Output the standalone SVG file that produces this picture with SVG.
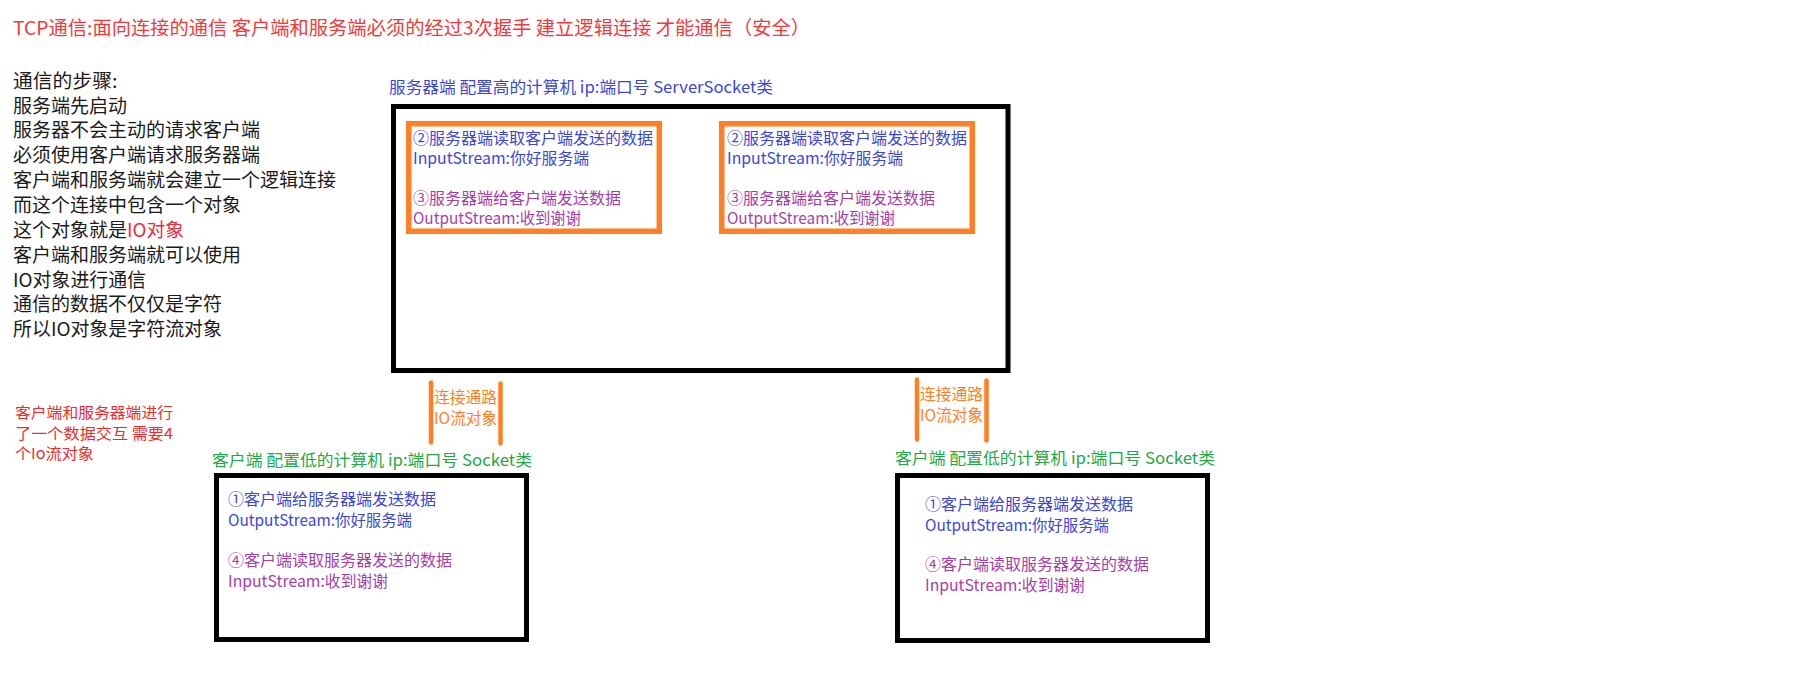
<svg xmlns="http://www.w3.org/2000/svg" width="1800" height="695" viewBox="0 0 1800 695">
<style>
text{font-family:"Noto Sans CJK SC","Noto Sans",sans-serif;white-space:pre}
.t19{font-size:19px;fill:#1a1a1a}
.t16{font-size:16px}
.t15{font-size:15px}
.blue{fill:#3b46d9}
.purple{fill:#a63ea8}
.green{fill:#1fa845}
.orange{fill:#ff7f27}
.red{fill:#ee2c2c}
.box{fill:none;stroke:#000;stroke-width:5}
.obox{fill:none;stroke:#ff7f27;stroke-width:5.5}
.bar{stroke:#ff7f27;stroke-width:4.5;stroke-linecap:round;fill:none}
</style>
<rect width="1800" height="695" fill="#fff"/>

<g id="title">
<text x="13" y="35" class="t19" textLength="797" lengthAdjust="spacingAndGlyphs" style="fill:#f03a3a">TCP通信:面向连接的通信 客户端和服务端必须的经过3次握手 建立逻辑连接 才能通信（安全）</text>
</g>

<g id="steps">
<text x="13" y="87.7" class="t19" textLength="104.5" lengthAdjust="spacingAndGlyphs">通信的步骤:</text>
<text x="13" y="112.5" class="t19" textLength="114" lengthAdjust="spacingAndGlyphs">服务端先启动</text>
<text x="13" y="137.4" class="t19" textLength="247" lengthAdjust="spacingAndGlyphs">服务器不会主动的请求客户端</text>
<text x="13" y="162.3" class="t19" textLength="247" lengthAdjust="spacingAndGlyphs">必须使用客户端请求服务器端</text>
<text x="13" y="187.1" class="t19" textLength="323" lengthAdjust="spacingAndGlyphs">客户端和服务端就会建立一个逻辑连接</text>
<text x="13" y="212" class="t19" textLength="228" lengthAdjust="spacingAndGlyphs">而这个连接中包含一个对象</text>
<text x="13" y="236.8" class="t19" textLength="114" lengthAdjust="spacingAndGlyphs">这个对象就是</text>
<text x="127" y="236.8" class="t19" textLength="57" lengthAdjust="spacingAndGlyphs" style="fill:#ee2c3c">IO对象</text>
<text x="13" y="261.7" class="t19" textLength="228" lengthAdjust="spacingAndGlyphs">客户端和服务端就可以使用</text>
<text x="13" y="286.6" class="t19" textLength="133" lengthAdjust="spacingAndGlyphs">IO对象进行通信</text>
<text x="13" y="311.4" class="t19" textLength="209" lengthAdjust="spacingAndGlyphs">通信的数据不仅仅是字符</text>
<text x="13" y="336.3" class="t19" textLength="209" lengthAdjust="spacingAndGlyphs">所以IO对象是字符流对象</text>
</g>

<g id="note">
<text x="15" y="418" class="t15 red" textLength="158" lengthAdjust="spacingAndGlyphs">客户端和服务器端进行</text>
<text x="15" y="438.5" class="t15 red" textLength="158" lengthAdjust="spacingAndGlyphs">了一个数据交互 需要4</text>
<text x="15" y="459" class="t15 red" textLength="79" lengthAdjust="spacingAndGlyphs">个Io流对象</text>
</g>

<g id="server">
<text x="389" y="93" class="t16 blue" textLength="384" lengthAdjust="spacingAndGlyphs">服务器端 配置高的计算机 ip:端口号 ServerSocket类</text>
<rect x="393.5" y="106.5" width="614.5" height="264" class="box"/>
</g>

<g id="server-stream-1">
<rect x="408.75" y="123.75" width="250.5" height="107.5" class="obox"/>
<text x="413" y="143.5" class="t16 blue" textLength="240" lengthAdjust="spacingAndGlyphs">②服务器端读取客户端发送的数据</text>
<text x="413" y="164" class="t16 blue" textLength="176" lengthAdjust="spacingAndGlyphs">InputStream:你好服务端</text>
<text x="413" y="203.5" class="t16 purple" textLength="208" lengthAdjust="spacingAndGlyphs">③服务器端给客户端发送数据</text>
<text x="413" y="224" class="t16 purple" textLength="168" lengthAdjust="spacingAndGlyphs">OutputStream:收到谢谢</text>
</g>

<g id="server-stream-2">
<rect x="721.75" y="123.75" width="250.5" height="107.5" class="obox"/>
<text x="727" y="143.5" class="t16 blue" textLength="240" lengthAdjust="spacingAndGlyphs">②服务器端读取客户端发送的数据</text>
<text x="727" y="164" class="t16 blue" textLength="176" lengthAdjust="spacingAndGlyphs">InputStream:你好服务端</text>
<text x="727" y="203.5" class="t16 purple" textLength="208" lengthAdjust="spacingAndGlyphs">③服务器端给客户端发送数据</text>
<text x="727" y="224" class="t16 purple" textLength="168" lengthAdjust="spacingAndGlyphs">OutputStream:收到谢谢</text>
</g>

<g id="client-1">
<text x="212" y="466" class="t16 green" textLength="320" lengthAdjust="spacingAndGlyphs">客户端 配置低的计算机 ip:端口号 Socket类</text>
<rect x="216.5" y="475.5" width="310" height="164" class="box"/>
<text x="228" y="505" class="t16 blue" textLength="208" lengthAdjust="spacingAndGlyphs">①客户端给服务器端发送数据</text>
<text x="228" y="526" class="t16 blue" textLength="184" lengthAdjust="spacingAndGlyphs">OutputStream:你好服务端</text>
<text x="228" y="565.5" class="t16 purple" textLength="224" lengthAdjust="spacingAndGlyphs">④客户端读取服务器发送的数据</text>
<text x="228" y="586.5" class="t16 purple" textLength="160" lengthAdjust="spacingAndGlyphs">InputStream:收到谢谢</text>
</g>

<g id="client-2">
<text x="895" y="464" class="t16 green" textLength="320" lengthAdjust="spacingAndGlyphs">客户端 配置低的计算机 ip:端口号 Socket类</text>
<rect x="897.5" y="475.5" width="310" height="165" class="box"/>
<text x="925" y="510" class="t16 blue" textLength="208" lengthAdjust="spacingAndGlyphs">①客户端给服务器端发送数据</text>
<text x="925" y="531" class="t16 blue" textLength="184" lengthAdjust="spacingAndGlyphs">OutputStream:你好服务端</text>
<text x="925" y="570" class="t16 purple" textLength="224" lengthAdjust="spacingAndGlyphs">④客户端读取服务器发送的数据</text>
<text x="925" y="591" class="t16 purple" textLength="160" lengthAdjust="spacingAndGlyphs">InputStream:收到谢谢</text>
</g>

<g id="connectors">
<line x1="431" y1="382.5" x2="431" y2="442.5" class="bar"/>
<line x1="500.5" y1="383.5" x2="500.5" y2="443.5" class="bar"/>
<text x="434" y="403" class="orange" style="font-size:15.8px" textLength="63" lengthAdjust="spacingAndGlyphs">连接通路</text>
<text x="434" y="423.5" class="orange" style="font-size:15.8px" textLength="63" lengthAdjust="spacingAndGlyphs">IO流对象</text>
<line x1="917" y1="379.5" x2="917" y2="439.5" class="bar"/>
<line x1="986.5" y1="380.5" x2="986.5" y2="440.5" class="bar"/>
<text x="920" y="400" class="orange" style="font-size:15.8px" textLength="63" lengthAdjust="spacingAndGlyphs">连接通路</text>
<text x="920" y="421" class="orange" style="font-size:15.8px" textLength="63" lengthAdjust="spacingAndGlyphs">IO流对象</text>
</g>
</svg>
